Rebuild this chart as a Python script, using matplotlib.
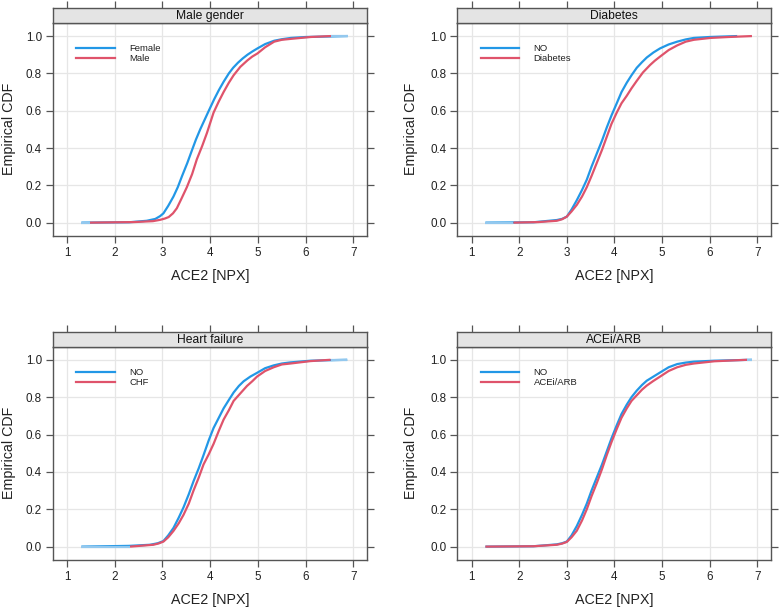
import numpy as np
import matplotlib
matplotlib.use('Agg')
import matplotlib.pyplot as plt

plt.rcParams['font.family'] = ['Liberation Sans', 'DejaVu Sans']

# ECDF curves (ACE2 [NPX] vs cumulative fraction)
gender_female_x = [1.30, 2.30, 2.67, 2.85, 2.95, 3.02, 3.12, 3.23, 3.32, 3.41, 3.52, 3.62, 3.70, 3.79, 3.88, 3.97, 4.08, 4.18, 4.28, 4.39, 4.48, 4.58, 4.68, 4.78, 4.88, 4.99, 5.15, 5.34, 5.50, 5.69, 6.00, 6.88]
gender_female_y = [0.00, 0.002, 0.01, 0.02, 0.035, 0.05, 0.09, 0.14, 0.19, 0.25, 0.32, 0.39, 0.445, 0.50, 0.55, 0.60, 0.66, 0.71, 0.755, 0.80, 0.83, 0.857, 0.88, 0.90, 0.917, 0.934, 0.957, 0.975, 0.983, 0.99, 0.995, 1.00]
gender_male_x = [1.48, 2.40, 2.80, 2.95, 3.05, 3.13, 3.22, 3.30, 3.40, 3.51, 3.62, 3.72, 3.83, 3.93, 4.07, 4.18, 4.28, 4.39, 4.49, 4.63, 4.78, 4.88, 4.99, 5.15, 5.34, 5.50, 5.69, 6.10, 6.53]
gender_male_y = [0.00, 0.003, 0.008, 0.015, 0.022, 0.03, 0.05, 0.077, 0.13, 0.19, 0.26, 0.34, 0.41, 0.48, 0.59, 0.65, 0.70, 0.75, 0.79, 0.835, 0.87, 0.89, 0.907, 0.94, 0.97, 0.98, 0.985, 0.995, 1.00]

diab_no_x = [1.29, 2.30, 2.79, 2.90, 3.00, 3.10, 3.21, 3.32, 3.42, 3.52, 3.63, 3.74, 3.84, 3.94, 4.05, 4.15, 4.26, 4.36, 4.47, 4.58, 4.68, 4.82, 4.96, 5.14, 5.32, 5.50, 5.67, 6.00, 6.58]
diab_no_y = [0.00, 0.002, 0.014, 0.02, 0.032, 0.07, 0.12, 0.175, 0.23, 0.30, 0.37, 0.44, 0.51, 0.575, 0.64, 0.70, 0.75, 0.79, 0.83, 0.86, 0.885, 0.912, 0.934, 0.955, 0.97, 0.982, 0.99, 0.995, 1.00]
diab_yes_x = [1.88, 2.40, 2.79, 2.90, 3.00, 3.10, 3.21, 3.32, 3.42, 3.52, 3.63, 3.74, 3.84, 3.94, 4.05, 4.15, 4.26, 4.36, 4.47, 4.60, 4.75, 4.85, 4.96, 5.14, 5.32, 5.50, 5.67, 6.02, 6.40, 6.89]
diab_yes_y = [0.00, 0.003, 0.01, 0.018, 0.032, 0.06, 0.095, 0.14, 0.19, 0.25, 0.32, 0.39, 0.46, 0.53, 0.59, 0.64, 0.68, 0.72, 0.76, 0.805, 0.845, 0.868, 0.89, 0.925, 0.95, 0.97, 0.98, 0.99, 0.995, 1.00]

hf_no_x = [1.30, 2.30, 2.74, 2.90, 3.02, 3.12, 3.23, 3.34, 3.44, 3.55, 3.65, 3.76, 3.86, 3.97, 4.07, 4.18, 4.28, 4.39, 4.49, 4.60, 4.70, 4.84, 4.98, 5.15, 5.33, 5.50, 5.68, 6.10, 6.87]
hf_no_y = [0.00, 0.004, 0.01, 0.018, 0.03, 0.06, 0.10, 0.155, 0.21, 0.28, 0.35, 0.42, 0.49, 0.57, 0.635, 0.69, 0.74, 0.785, 0.825, 0.86, 0.885, 0.91, 0.93, 0.955, 0.97, 0.98, 0.986, 0.995, 1.00]
hf_chf_x = [2.32, 2.81, 2.92, 3.02, 3.12, 3.23, 3.34, 3.44, 3.55, 3.65, 3.76, 3.86, 3.97, 4.07, 4.18, 4.28, 4.39, 4.49, 4.63, 4.77, 4.88, 4.98, 5.15, 5.33, 5.50, 5.68, 6.10, 6.52]
hf_chf_y = [0.00, 0.01, 0.017, 0.027, 0.05, 0.084, 0.125, 0.17, 0.23, 0.30, 0.37, 0.44, 0.495, 0.55, 0.62, 0.68, 0.73, 0.78, 0.82, 0.86, 0.885, 0.91, 0.94, 0.96, 0.975, 0.98, 0.993, 1.00]

acei_no_x = [1.29, 2.30, 2.79, 2.90, 3.00, 3.10, 3.21, 3.32, 3.42, 3.52, 3.63, 3.74, 3.84, 3.94, 4.05, 4.15, 4.26, 4.36, 4.47, 4.58, 4.68, 4.82, 4.96, 5.14, 5.32, 5.50, 5.67, 6.10, 6.89]
acei_no_y = [0.00, 0.002, 0.012, 0.018, 0.027, 0.06, 0.11, 0.17, 0.23, 0.30, 0.37, 0.44, 0.51, 0.58, 0.65, 0.71, 0.76, 0.80, 0.835, 0.865, 0.888, 0.91, 0.932, 0.96, 0.977, 0.985, 0.99, 0.995, 1.00]
acei_yes_x = [1.29, 2.30, 2.79, 2.90, 3.00, 3.10, 3.21, 3.32, 3.42, 3.52, 3.63, 3.74, 3.84, 3.94, 4.05, 4.15, 4.26, 4.36, 4.47, 4.58, 4.68, 4.82, 4.96, 5.14, 5.32, 5.50, 5.67, 6.10, 6.79]
acei_yes_y = [0.00, 0.002, 0.01, 0.016, 0.025, 0.05, 0.085, 0.14, 0.20, 0.27, 0.34, 0.415, 0.49, 0.56, 0.63, 0.69, 0.74, 0.78, 0.81, 0.84, 0.862, 0.887, 0.91, 0.94, 0.96, 0.973, 0.98, 0.992, 1.00]

titles = ['Male gender', 'Diabetes', 'Heart failure', 'ACEi/ARB']
group_labels = [['Female', 'Male'], ['NO', 'Diabetes'], ['NO', 'CHF'], ['NO', 'ACEi/ARB']]
curves = [
    ((gender_female_x, gender_female_y), (gender_male_x, gender_male_y)),
    ((diab_no_x, diab_no_y), (diab_yes_x, diab_yes_y)),
    ((hf_no_x, hf_no_y), (hf_chf_x, hf_chf_y)),
    ((acei_no_x, acei_no_y), (acei_yes_x, acei_yes_y)),
]

x_ticks = [1, 2, 3, 4, 5, 6, 7]
y_ticks = [0.0, 0.2, 0.4, 0.6, 0.8, 1.0]

blue = '#2297E6'
blue_light = '#93c8ee'
pink = '#DF536B'
frame = '#555555'
grid = '#e6e6e6'

W, H = 780, 608
fig = plt.figure(figsize=(7.8, 6.08), dpi=100)

# panel boxes in pixels: left, right, strip top, strip bottom, plot bottom
lefts = [52.7, 457.3]
rights = [367.3, 771.0]
rows = [(8.0, 23.0, 235.7), (332.0, 346.7, 559.7)]
ylab_x = [-0.138, -0.146]

for i, title in enumerate(titles):
    r, c = divmod(i, 2)
    l, rt = lefts[c], rights[c]
    st, sb, pb = rows[r]
    ax = fig.add_axes([l / W, (H - pb) / H, (rt - l) / W, (pb - sb) / H])
    sax = fig.add_axes([l / W, (H - sb) / H, (rt - l) / W, (sb - st) / H])

    (bx, by), (px, py) = curves[i]
    ax.plot(bx, by, color=blue, lw=1.6, zorder=3, solid_capstyle='butt')
    ax.plot(px, py, color=pink, lw=1.6, zorder=4, solid_capstyle='butt')
    # pale tails where only the first group has data
    if bx[0] < px[0]:
        ax.plot([bx[0], px[0]], [by[0], by[0]], color=blue_light, lw=1.6, zorder=5, solid_capstyle='butt')
    if bx[-1] > px[-1]:
        ax.plot([px[-1], bx[-1]], [by[-1], by[-1]], color=blue_light, lw=1.6, zorder=5, solid_capstyle='butt')

    ax.set_xlim(0.70, 7.29)
    ax.set_ylim(-0.07, 1.07)
    ax.set_xticks(x_ticks)
    ax.set_yticks(y_ticks)
    ax.set_yticklabels([f'{v:.1f}' for v in y_ticks])
    ax.grid(True, color=grid, lw=0.9, zorder=0)
    ax.set_axisbelow(True)
    for s in ax.spines.values():
        s.set_color(frame)
        s.set_linewidth(1.0)
    ax.tick_params(direction='out', length=5, width=0.9, color=frame,
                   labelsize=8.4, labelcolor='#222222', pad=2.8,
                   right=True, top=False)
    ax.set_xlabel('ACE2 [NPX]', fontsize=10.3, color='#222222', va='center')
    ax.set_ylabel('Empirical CDF', fontsize=10.3, color='#222222', va='center')
    ax.xaxis.set_label_coords(0.5, -0.189)
    ax.yaxis.set_label_coords(ylab_x[c], 0.5)

    # legend drawn by hand, lattice style
    for k, (lab, col) in enumerate(zip(group_labels[i], [blue, pink])):
        yy = 0.881 - k * 0.047
        ax.plot([0.074, 0.198], [yy, yy], color=col, lw=1.6, transform=ax.transAxes, zorder=6)
        ax.text(0.243, yy, lab, transform=ax.transAxes, fontsize=6.8,
                va='center', ha='left', color='#222222')

    # strip on top
    sax.set_facecolor('#e4e4e4')
    sax.set_xlim(ax.get_xlim())
    sax.set_ylim(0, 1)
    sax.set_xticks(x_ticks)
    sax.set_yticks([])
    sax.tick_params(axis='x', direction='out', length=5, width=0.9, color=frame,
                    top=True, bottom=False, labeltop=False, labelbottom=False)
    for s in sax.spines.values():
        s.set_color(frame)
        s.set_linewidth(1.0)
    sax.text(0.5, 0.47, title, transform=sax.transAxes, ha='center', va='center',
             fontsize=8.7, color='#111111')

fig.savefig('out.png', dpi=100)
